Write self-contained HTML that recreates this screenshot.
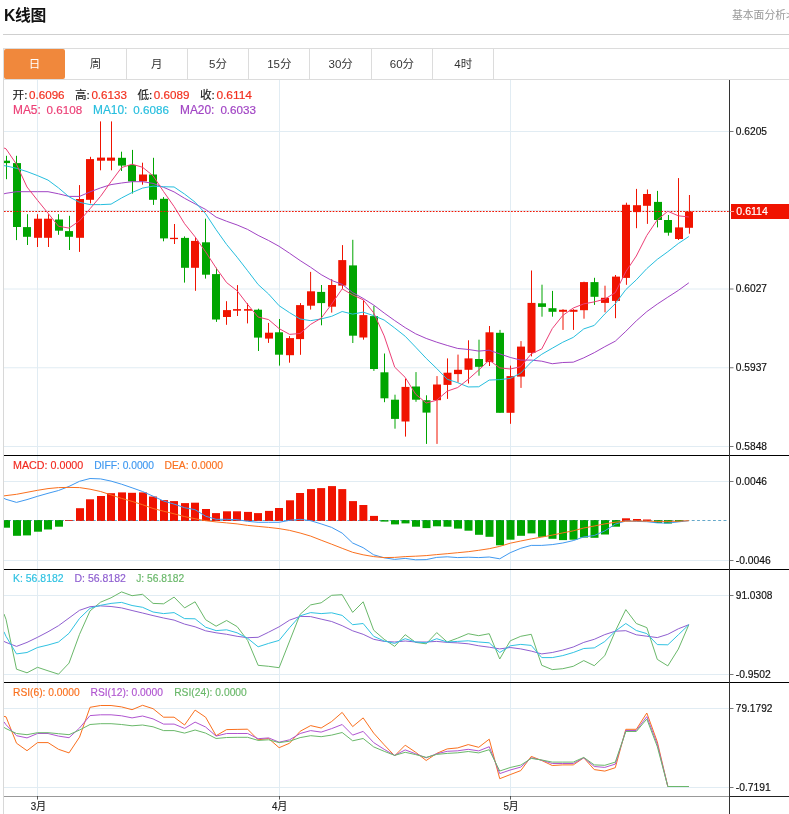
<!DOCTYPE html>
<html lang="zh-CN">
<head>
<meta charset="utf-8">
<title>K线图</title>
<style>
html,body{margin:0;padding:0;background:#fff;}
body{width:789px;height:814px;position:relative;overflow:hidden;font-family:"Liberation Sans","Noto Sans CJK SC",sans-serif;color:#222;}
.hd{position:absolute;left:3px;top:0;width:786px;height:34px;border-bottom:1px solid #cfcfcf;box-sizing:content-box;}
.hd h2{position:absolute;left:1px;top:4.5px;margin:0;font-size:15.8px;line-height:22px;font-weight:bold;color:#111;letter-spacing:-0.3px;white-space:nowrap;}
.hd a{position:absolute;left:729px;top:6px;font-size:10.8px;line-height:18px;color:#999;white-space:nowrap;text-decoration:none;}
.tabs{position:absolute;left:3px;top:48px;width:786px;height:30px;margin:0;padding:0;list-style:none;border-top:1px solid #dcdcdc;border-bottom:1px solid #dcdcdc;border-left:1px solid #dcdcdc;box-sizing:content-box;}
.tabs li{position:absolute;top:0;height:30px;width:60.3px;border-right:1px solid #dcdcdc;text-align:center;font-size:11.5px;line-height:30px;color:#333;}
.tabs li.on{background:#f0883c;color:#fff;border-radius:2px;top:0;width:61px;border-right:0;}
.chart{position:absolute;left:0;top:0;display:block;}
</style>
</head>
<body>
<div class="hd"><h2>K线图</h2><a>基本面分析&gt;</a></div>
<ul class="tabs"><li class="on" style="left:0px">日</li><li style="left:61.3px">周</li><li style="left:122.6px">月</li><li style="left:183.9px">5分</li><li style="left:245.2px">15分</li><li style="left:306.5px">30分</li><li style="left:367.8px">60分</li><li style="left:429.1px">4时</li></ul>
<svg class="chart" width="789" height="814" viewBox="0 0 789 814" stroke-width="0.18" font-family="'Liberation Sans','Noto Sans CJK SC',sans-serif">
<g stroke="#e1ecf3" stroke-width="1" fill="none"><line x1="4" y1="131.5" x2="729.5" y2="131.5"/><line x1="4" y1="210.6" x2="729.5" y2="210.6"/><line x1="4" y1="289" x2="729.5" y2="289"/><line x1="4" y1="367.75" x2="729.5" y2="367.75"/><line x1="4" y1="446.5" x2="729.5" y2="446.5"/><line x1="4" y1="481.5" x2="729.5" y2="481.5"/><line x1="4" y1="560.5" x2="729.5" y2="560.5"/><line x1="4" y1="595.5" x2="729.5" y2="595.5"/><line x1="4" y1="674.5" x2="729.5" y2="674.5"/><line x1="4" y1="708.5" x2="729.5" y2="708.5"/><line x1="4" y1="787.5" x2="729.5" y2="787.5"/><line x1="37.5" y1="80" x2="37.5" y2="796"/><line x1="279.5" y1="80" x2="279.5" y2="796"/><line x1="510.5" y1="80" x2="510.5" y2="796"/></g>
<g stroke="#00a500" stroke-width="1"><line x1="6.5" y1="155.8" x2="6.5" y2="179.2"/><line x1="16.5" y1="155.8" x2="16.5" y2="240.1"/><line x1="27.5" y1="214.2" x2="27.5" y2="245"/><line x1="58.5" y1="214.2" x2="58.5" y2="234.8"/><line x1="69.5" y1="215.8" x2="69.5" y2="250"/><line x1="121.5" y1="151.7" x2="121.5" y2="171"/><line x1="132.5" y1="149.9" x2="132.5" y2="193.5"/><line x1="153.5" y1="157.8" x2="153.5" y2="204.9"/><line x1="163.5" y1="197.1" x2="163.5" y2="241.3"/><line x1="184.5" y1="236.4" x2="184.5" y2="282.6"/><line x1="205.5" y1="218.7" x2="205.5" y2="278.6"/><line x1="216.5" y1="267.8" x2="216.5" y2="321.9"/><line x1="258.5" y1="308.7" x2="258.5" y2="351"/><line x1="279.5" y1="319" x2="279.5" y2="365.6"/><line x1="321.5" y1="285" x2="321.5" y2="325.3"/><line x1="352.8" y1="239.8" x2="352.8" y2="343"/><line x1="373.9" y1="305.7" x2="373.9" y2="370.9"/><line x1="384.5" y1="353.5" x2="384.5" y2="402.2"/><line x1="395" y1="394.7" x2="395" y2="428.7"/><line x1="416" y1="372.1" x2="416" y2="401.8"/><line x1="426.5" y1="395.3" x2="426.5" y2="443.9"/><line x1="479" y1="339.7" x2="479" y2="375.7"/><line x1="500" y1="329.9" x2="500" y2="412.8"/><line x1="542" y1="284.7" x2="542" y2="316.7"/><line x1="552.5" y1="290.9" x2="552.5" y2="316.7"/><line x1="594.5" y1="277.8" x2="594.5" y2="304.9"/><line x1="657.5" y1="190.9" x2="657.5" y2="227.4"/><line x1="668.45" y1="215" x2="668.45" y2="235.7"/></g>
<g stroke="#f01300" stroke-width="1"><line x1="37.5" y1="214.2" x2="37.5" y2="247"/><line x1="48.5" y1="214.2" x2="48.5" y2="247"/><line x1="79.5" y1="185.1" x2="79.5" y2="251.9"/><line x1="90.5" y1="156.8" x2="90.5" y2="203.4"/><line x1="100.5" y1="121.4" x2="100.5" y2="170.3"/><line x1="111.5" y1="121.4" x2="111.5" y2="170.3"/><line x1="142.5" y1="162.7" x2="142.5" y2="184.7"/><line x1="174.5" y1="224" x2="174.5" y2="244"/><line x1="195.5" y1="237.3" x2="195.5" y2="290.8"/><line x1="226.5" y1="301.2" x2="226.5" y2="324.8"/><line x1="237.5" y1="285.1" x2="237.5" y2="316"/><line x1="247.5" y1="303.2" x2="247.5" y2="323.4"/><line x1="268.5" y1="322.9" x2="268.5" y2="342.9"/><line x1="289.5" y1="336.1" x2="289.5" y2="362.7"/><line x1="300.5" y1="303.1" x2="300.5" y2="354.8"/><line x1="310.6" y1="271.9" x2="310.6" y2="309.6"/><line x1="331.7" y1="279.1" x2="331.7" y2="312.6"/><line x1="342.5" y1="245.1" x2="342.5" y2="289"/><line x1="363.5" y1="299.8" x2="363.5" y2="339.7"/><line x1="405.5" y1="378.6" x2="405.5" y2="436.6"/><line x1="437" y1="376.1" x2="437" y2="443.9"/><line x1="447.5" y1="358.4" x2="447.5" y2="398.9"/><line x1="458" y1="354.6" x2="458" y2="382.6"/><line x1="468.5" y1="340.3" x2="468.5" y2="383.5"/><line x1="489.5" y1="326" x2="489.5" y2="366"/><line x1="510.5" y1="365.6" x2="510.5" y2="423.8"/><line x1="521" y1="341.1" x2="521" y2="387.9"/><line x1="531.5" y1="270.5" x2="531.5" y2="356.4"/><line x1="563" y1="309.2" x2="563" y2="329.9"/><line x1="573.5" y1="309.2" x2="573.5" y2="329.9"/><line x1="584" y1="281.7" x2="584" y2="318.7"/><line x1="605" y1="285.7" x2="605" y2="312.3"/><line x1="615.5" y1="275" x2="615.5" y2="318.2"/><line x1="626.45" y1="202.7" x2="626.45" y2="284.8"/><line x1="636.5" y1="188.9" x2="636.5" y2="228.2"/><line x1="647.45" y1="189.5" x2="647.45" y2="223.9"/><line x1="678.5" y1="178.1" x2="678.5" y2="240"/><line x1="689.45" y1="195" x2="689.45" y2="233.7"/></g>
<g fill="#00a500"><rect x="4" y="160.7" width="6" height="2.4"/><rect x="13" y="163.1" width="8" height="63.9"/><rect x="23" y="227.1" width="8" height="9.7"/><rect x="55" y="219.5" width="8" height="11.2"/><rect x="65" y="231.1" width="8" height="5.7"/><rect x="118" y="157.8" width="8" height="7.8"/><rect x="128" y="165" width="8" height="16.4"/><rect x="149" y="174.5" width="8" height="25.3"/><rect x="160" y="198.8" width="8" height="39.6"/><rect x="181" y="237.9" width="8" height="29.9"/><rect x="202" y="242.3" width="8" height="32.4"/><rect x="212" y="274.1" width="8" height="45.4"/><rect x="254" y="309.7" width="8" height="27.9"/><rect x="275" y="332.3" width="8" height="22.4"/><rect x="317.15" y="291.9" width="8" height="11.2"/><rect x="349" y="265.4" width="8" height="70.3"/><rect x="370" y="316.1" width="8" height="52.9"/><rect x="380.45" y="372.3" width="8" height="26"/><rect x="391" y="399.7" width="8" height="19.2"/><rect x="412" y="386.5" width="8" height="13.2"/><rect x="422.5" y="400.2" width="8" height="12.4"/><rect x="475" y="359" width="8" height="7.8"/><rect x="496" y="332.8" width="8" height="80"/><rect x="538" y="303.3" width="8" height="3.6"/><rect x="548.5" y="308.2" width="8" height="3.6"/><rect x="590.5" y="282.1" width="8" height="14.7"/><rect x="654" y="201.9" width="8" height="18.1"/><rect x="664" y="220" width="8" height="12.7"/></g>
<g fill="#f01300"><rect x="34" y="218.7" width="8" height="19.1"/><rect x="44" y="218.7" width="8" height="19.1"/><rect x="76" y="199" width="8" height="38.8"/><rect x="86" y="159.1" width="8" height="40.7"/><rect x="97" y="157.6" width="8" height="3.1"/><rect x="107" y="157.6" width="8" height="3.1"/><rect x="139" y="174.5" width="8" height="6.9"/><rect x="170" y="237.8" width="8" height="1.3"/><rect x="191" y="240.9" width="8" height="26.9"/><rect x="223" y="310.1" width="8" height="6.9"/><rect x="233" y="309.1" width="8" height="1.6"/><rect x="244" y="309.1" width="8" height="1.6"/><rect x="265" y="332.7" width="8" height="5.9"/><rect x="286" y="338.1" width="8" height="17.1"/><rect x="296.05" y="305.1" width="8" height="34"/><rect x="307" y="291.3" width="8" height="14.4"/><rect x="328" y="285" width="8" height="21.7"/><rect x="338.25" y="260.1" width="8" height="25.5"/><rect x="359.35" y="315.1" width="8" height="22.4"/><rect x="401.5" y="386.9" width="8" height="34.6"/><rect x="433" y="384.5" width="8" height="15.7"/><rect x="443.5" y="372.7" width="8" height="12.2"/><rect x="454" y="369.8" width="8" height="4.3"/><rect x="464.5" y="358.4" width="8" height="11.4"/><rect x="485.5" y="332.3" width="8" height="29.8"/><rect x="506.5" y="376.1" width="8" height="36.7"/><rect x="517" y="346.6" width="8" height="30"/><rect x="527.5" y="302.9" width="8" height="50"/><rect x="559" y="309.8" width="8" height="2"/><rect x="569.5" y="309.8" width="8" height="2"/><rect x="580" y="282.1" width="8" height="28.1"/><rect x="601" y="297.8" width="8" height="5.1"/><rect x="612" y="276.6" width="8" height="24.3"/><rect x="622" y="204.8" width="8" height="73.1"/><rect x="633" y="205.2" width="8" height="6.9"/><rect x="643" y="194" width="8" height="11.8"/><rect x="675" y="227.4" width="8" height="11.6"/><rect x="685" y="211.5" width="8" height="16.3"/></g>
<line x1="4" y1="211.5" x2="729.5" y2="211.5" stroke="#f01300" stroke-width="1" stroke-dasharray="1.7 1.43"/>
<polyline points="4,193.8 6,193.3 16.51,191.7 27.01,191.7 37.52,191.7 48.02,191.7 58.53,193.8 69.03,196.4 79.54,196.4 90.04,191.9 100.55,187.9 111.05,184.6 121.56,183 132.06,181.7 142.56,181.7 153.07,183.4 163.58,187.3 174.08,191.9 184.59,198.3 195.09,203.9 205.6,209.43 216.1,217.14 226.61,221.28 237.11,224.97 247.62,229.43 258.12,235.37 268.62,240.52 279.13,246.34 289.64,253.3 300.14,260.55 310.65,267.29 321.15,274.62 331.66,280.43 342.16,284.38 352.67,292.62 363.17,298.42 373.68,305.04 384.18,313.04 394.69,320.55 405.19,327.65 415.7,333.82 426.2,338.43 436.71,342.17 447.21,345.43 457.72,348.46 468.22,349.46 478.73,351.09 489.23,350.2 499.74,353.88 510.24,357.44 520.75,360.09 531.25,360.08 541.75,361.2 552.26,363.74 562.76,362.52 573.27,362.17 583.78,357.84 594.28,352.66 604.79,346.69 615.29,341.18 625.8,331.32 636.3,320.89 646.81,311.62 657.31,304.07 667.82,297.16 678.32,290.42 688.83,282.8" fill="none" stroke="#a144c4" stroke-width="1.0" stroke-linejoin="round"/>
<polyline points="4,165.7 6,165.9 16.51,168.3 27.01,171.6 37.52,175.6 48.02,180.1 58.53,187.9 69.03,196.8 79.54,202.3 90.04,204.6 100.55,204.64 111.05,204.15 121.56,197.97 132.06,192.54 142.56,188.07 153.07,186.16 163.58,186.73 174.08,186.98 184.59,194.09 195.09,202.16 205.6,213.76 216.1,229.71 226.61,244.49 237.11,257.19 247.62,270.74 258.12,284.5 268.62,294.02 279.13,305.72 289.64,312.69 300.14,318.98 310.65,320.65 321.15,318.94 331.66,316.31 342.16,311.51 352.67,314.13 363.17,312.12 373.68,315.67 384.18,320.06 394.69,327.97 405.19,336.25 415.7,347.19 426.2,358.35 436.71,368.51 447.21,379.25 457.72,382.71 468.22,386.94 478.73,386.77 489.23,380.07 499.74,379.61 510.24,378.43 520.75,373.12 531.25,362.04 541.75,354.27 552.26,348.23 562.76,342.25 573.27,337.36 583.78,328.91 594.28,325.42 604.79,313.97 615.29,303.71 625.8,289.62 636.3,279.84 646.81,268.58 657.31,259.34 667.82,251.69 678.32,243.53 688.83,236.53" fill="none" stroke="#26bede" stroke-width="1.0" stroke-linejoin="round"/>
<polyline points="4,148 6,148.8 16.51,164.3 27.01,187 37.52,200.3 48.02,213.19 58.53,226.29 69.03,228.08 79.54,220.84 90.04,208.72 100.55,196.36 111.05,181.64 121.56,167.59 132.06,164.19 142.56,167.25 153.07,175.78 163.58,191.6 174.08,206.54 184.59,223.69 195.09,236.85 205.6,251.81 216.1,267.98 226.61,282.6 237.11,290.75 247.62,304.43 258.12,317.06 268.62,319.62 279.13,328.61 289.64,334.38 300.14,333.48 310.65,324.36 321.15,318.22 331.66,304.07 342.16,288.84 352.67,294.91 363.17,299.8 373.68,312.88 384.18,335.9 394.69,367.17 405.19,377.4 415.7,394.27 426.2,403.01 436.71,400.21 447.21,391.16 457.72,387.52 468.22,379.35 478.73,370.03 489.23,360.15 499.74,367.89 510.24,369.01 520.75,366.74 531.25,353.83 541.75,348.92 552.26,328.62 562.76,315.48 573.27,308 583.78,303.89 594.28,301.9 604.79,299.12 615.29,292.64 625.8,271.72 636.3,256 646.81,235.44 657.31,219.84 667.82,211.28 678.32,215.79 688.83,216.99" fill="none" stroke="#ec3f76" stroke-width="1.0" stroke-linejoin="round"/>
<line x1="4" y1="520.5" x2="727" y2="520.5" stroke="#5cb8e6" stroke-opacity="0.9" stroke-width="1" stroke-dasharray="2.8 2.5" stroke-dashoffset="1.2"/>
<g fill="#00a500"><rect x="4" y="520" width="6" height="7.7"/><rect x="13" y="520" width="8" height="15.8"/><rect x="23" y="520" width="8" height="15.4"/><rect x="34" y="520" width="8" height="11.7"/><rect x="44" y="520" width="8" height="9.5"/><rect x="55" y="520" width="8" height="6.7"/><rect x="380.45" y="520" width="8" height="1.6"/><rect x="391" y="520" width="8" height="4.4"/><rect x="401.5" y="520" width="8" height="3.4"/><rect x="412" y="520" width="8" height="6.7"/><rect x="422.5" y="520" width="8" height="8.1"/><rect x="433" y="520" width="8" height="6.3"/><rect x="443.5" y="520" width="8" height="6.7"/><rect x="454" y="520" width="8" height="8.6"/><rect x="464.5" y="520" width="8" height="10.7"/><rect x="475" y="520" width="8" height="14.8"/><rect x="485.5" y="520" width="8" height="16.8"/><rect x="496" y="520" width="8" height="25.3"/><rect x="506.5" y="520" width="8" height="19.7"/><rect x="517" y="520" width="8" height="15.8"/><rect x="527.5" y="520" width="8" height="13.4"/><rect x="538" y="520" width="8" height="16.8"/><rect x="548.5" y="520" width="8" height="18.8"/><rect x="559" y="520" width="8" height="20.1"/><rect x="569.5" y="520" width="8" height="19.7"/><rect x="580" y="520" width="8" height="17.6"/><rect x="590.5" y="520" width="8" height="17.8"/><rect x="601" y="520" width="8" height="14.5"/><rect x="612" y="520" width="8" height="6.7"/><rect x="654" y="520" width="8" height="3"/><rect x="664" y="520" width="8" height="3.5"/><rect x="675" y="520" width="8" height="1.9"/></g>
<g fill="#f01300"><rect x="65" y="520.1" width="8" height="0.9"/><rect x="76" y="508.2" width="8" height="12.8"/><rect x="86" y="499.3" width="8" height="21.7"/><rect x="97" y="496" width="8" height="25"/><rect x="107" y="493.2" width="8" height="27.8"/><rect x="118" y="492.4" width="8" height="28.6"/><rect x="128" y="492.8" width="8" height="28.2"/><rect x="139" y="492.4" width="8" height="28.6"/><rect x="149" y="496.5" width="8" height="24.5"/><rect x="160" y="500.1" width="8" height="20.9"/><rect x="170" y="501.1" width="8" height="19.9"/><rect x="181" y="503.1" width="8" height="17.9"/><rect x="191" y="502.7" width="8" height="18.3"/><rect x="202" y="509" width="8" height="12"/><rect x="212" y="513.1" width="8" height="7.9"/><rect x="223" y="511.3" width="8" height="9.7"/><rect x="233" y="511.3" width="8" height="9.7"/><rect x="244" y="511.9" width="8" height="9.1"/><rect x="254" y="513.1" width="8" height="7.9"/><rect x="265" y="510.9" width="8" height="10.1"/><rect x="275" y="508" width="8" height="13"/><rect x="286" y="500.3" width="8" height="20.7"/><rect x="296.05" y="493" width="8" height="28"/><rect x="307" y="489.1" width="8" height="31.9"/><rect x="317.15" y="488.1" width="8" height="32.9"/><rect x="328" y="486.1" width="8" height="34.9"/><rect x="338.25" y="489.1" width="8" height="31.9"/><rect x="349" y="501.1" width="8" height="19.9"/><rect x="359.35" y="505" width="8" height="16"/><rect x="370" y="515.9" width="8" height="5.1"/><rect x="622" y="518.3" width="8" height="2.7"/><rect x="633" y="519" width="8" height="2"/><rect x="643" y="519.5" width="8" height="1.5"/></g>
<line x1="4" y1="520.5" x2="727" y2="520.5" stroke="#60889c" stroke-opacity="0.4" stroke-width="1" stroke-dasharray="2.8 2.5" stroke-dashoffset="1.2"/>
<polyline points="4,498.4 6,499.3 16.51,502.4 27.01,499.6 37.52,496.3 48.02,493.3 58.53,490.5 69.03,486.4 79.54,481.3 90.04,478.5 100.55,478.9 111.05,481.1 121.56,484.2 132.06,487.8 142.56,491.5 153.07,496.2 163.58,501 174.08,504.1 184.59,507.7 195.09,509.7 205.6,516.2 216.1,519.3 226.61,519.3 237.11,519.7 247.62,521.3 258.12,522.3 268.62,522.3 279.13,522.3 289.64,520.3 300.14,519.3 310.65,520.7 321.15,523.9 331.66,527.4 342.16,533.1 352.67,543 363.17,547.7 373.68,554.8 384.18,557.8 394.69,559.4 405.19,558.4 415.7,559.8 426.2,559.6 436.71,557.4 447.21,556.8 457.72,557.6 468.22,557.2 478.73,557.6 489.23,557 499.74,558.8 510.24,552.7 520.75,548.3 531.25,545.4 541.75,545.4 552.26,544.6 562.76,543 573.27,540.6 583.78,536.9 594.28,535.5 604.79,530.9 615.29,524.1 625.8,521 636.3,521.4 646.81,521.7 657.31,522.9 667.82,523.1 678.32,521.9 688.83,520.7" fill="none" stroke="#4099f0" stroke-width="1.0" stroke-linejoin="round"/>
<polyline points="4,495.9 6,495.6 16.51,494.3 27.01,492.3 37.52,490.3 48.02,488.6 58.53,487.6 69.03,487.4 79.54,487.6 90.04,489.2 100.55,491.5 111.05,494.9 121.56,498.4 132.06,501.4 142.56,504.7 153.07,508.5 163.58,511.2 174.08,513.8 184.59,516.6 195.09,518.7 205.6,520.7 216.1,521.9 226.61,522.9 237.11,523.9 247.62,525.4 258.12,526.4 268.62,527.4 279.13,528.6 289.64,530.4 300.14,533 310.65,536.1 321.15,540.2 331.66,544.2 342.16,548.3 352.67,552.3 363.17,554.8 373.68,556.6 384.18,557.6 394.69,557.4 405.19,556.6 415.7,556.2 426.2,555.6 436.71,554.6 447.21,553.7 457.72,552.7 468.22,551.7 478.73,550.3 489.23,548.7 499.74,546.4 510.24,543.2 520.75,541 531.25,538.9 541.75,537.1 552.26,535.1 562.76,532.9 573.27,530.8 583.78,528 594.28,526 604.79,523.9 615.29,522.2 625.8,521.2 636.3,521 646.81,521.2 657.31,521.4 667.82,521.4 678.32,521.2 688.83,520.7" fill="none" stroke="#fa701e" stroke-width="1.0" stroke-linejoin="round"/>
<polyline points="4,614 6,619.3 16.51,669.2 27.01,672.8 37.52,667.3 48.02,670.8 58.53,674.2 69.03,663.1 79.54,634.3 90.04,610.9 100.55,602.2 111.05,597.8 121.56,591.9 132.06,595.7 142.56,594.3 153.07,603.4 163.58,603.8 174.08,597.1 184.59,607.9 195.09,601.8 205.6,619.7 216.1,626.2 226.61,620.5 237.11,626.6 247.62,640.4 258.12,665.3 268.62,666.3 279.13,667.7 289.64,641 300.14,614.3 310.65,604.9 321.15,602.8 331.66,595.3 342.16,594.7 352.67,612.4 363.17,601.8 373.68,630.2 384.18,639.3 394.69,646.4 405.19,634.7 415.7,642.4 426.2,643.8 436.71,632.6 447.21,642 457.72,638.1 468.22,633.7 478.73,635.7 489.23,633.7 499.74,659 510.24,640.8 520.75,636.3 531.25,634.3 541.75,665.3 552.26,669.6 562.76,668.7 573.27,666.3 583.78,660.6 594.28,665.7 604.79,655.7 615.29,631.2 625.8,609.6 636.3,623.5 646.81,627.6 657.31,659.4 667.82,665.9 678.32,649.1 688.83,624.7" fill="none" stroke="#6ab86a" stroke-width="1.0" stroke-linejoin="round"/>
<polyline points="4,641.4 6,642.4 16.51,646.4 27.01,642.4 37.52,637.3 48.02,631.8 58.53,625.7 69.03,618 79.54,610.3 90.04,606.7 100.55,605.9 111.05,606.5 121.56,607.9 132.06,610.5 142.56,613 153.07,615.6 163.58,618 174.08,620.1 184.59,624.1 195.09,626.8 205.6,630.8 216.1,632.8 226.61,634.3 237.11,636.3 247.62,637.7 258.12,637.3 268.62,632.2 279.13,626.8 289.64,620.1 300.14,616.4 310.65,616.6 321.15,619.1 331.66,621.5 342.16,625.7 352.67,630.8 363.17,634.3 373.68,639.3 384.18,641.4 394.69,642 405.19,641 415.7,642 426.2,642 436.71,641.4 447.21,642.4 457.72,642.9 468.22,643.8 478.73,645.8 489.23,647.2 499.74,648.9 510.24,647.5 520.75,648.9 531.25,651.1 541.75,653.9 552.26,652.5 562.76,650.1 573.27,647 583.78,642.4 594.28,639.3 604.79,634.6 615.29,631.2 625.8,630.7 636.3,634.8 646.81,636.2 657.31,637.6 667.82,634.3 678.32,628.8 688.83,624.7" fill="none" stroke="#8f5fd0" stroke-width="1.0" stroke-linejoin="round"/>
<polyline points="4,631.8 6,636.3 16.51,653.9 27.01,652.5 37.52,647.5 48.02,645 58.53,642 69.03,633.3 79.54,618.4 90.04,608.3 100.55,605.3 111.05,603.4 121.56,602.4 132.06,605.5 142.56,607.3 153.07,612 163.58,613.6 174.08,612.6 184.59,618.6 195.09,618.8 205.6,627.2 216.1,630.6 226.61,629.8 237.11,632.8 247.62,638.3 258.12,646.8 268.62,643.4 279.13,640.4 289.64,627.6 300.14,615.8 310.65,612.6 321.15,613.6 331.66,612.8 342.16,615.4 352.67,624.7 363.17,623.5 373.68,636.3 384.18,641 394.69,643.4 405.19,638.7 415.7,642 426.2,642.8 436.71,638.7 447.21,642 457.72,641.4 468.22,640.8 478.73,642 489.23,642.8 499.74,652.5 510.24,645.8 520.75,644.4 531.25,645.4 541.75,657.6 552.26,657.6 562.76,655.6 573.27,652.5 583.78,648.5 594.28,647.9 604.79,641.5 615.29,631.2 625.8,623.5 636.3,630.5 646.81,633.6 657.31,644.6 667.82,644.8 678.32,634.8 688.83,624.7" fill="none" stroke="#30c2e2" stroke-width="1.0" stroke-linejoin="round"/>
<polyline points="4,716.4 6,716.8 16.51,743.2 27.01,750.7 37.52,742.6 48.02,742.6 58.53,749.3 69.03,752.9 79.54,737.1 90.04,707.3 100.55,705.5 111.05,705.5 121.56,706.9 132.06,709.7 142.56,705.3 153.07,708.7 163.58,717.2 174.08,717.2 184.59,725 195.09,710.1 205.6,717.2 216.1,735.7 226.61,729.6 237.11,729.4 247.62,729.2 258.12,739.8 268.62,738.5 279.13,747.7 289.64,743.2 300.14,731.3 310.65,725.6 321.15,728 331.66,721.5 342.16,712.4 352.67,726.6 363.17,717.9 373.68,733.1 384.18,744.8 394.69,755.8 405.19,745.2 415.7,752.3 426.2,760.5 436.71,753.4 447.21,748.9 457.72,747.9 468.22,744.6 478.73,747.3 489.23,739.2 499.74,778.7 510.24,774.6 520.75,770.6 531.25,756.4 541.75,760.5 552.26,765.5 562.76,764.9 573.27,764.9 583.78,757.8 594.28,769.6 604.79,771.1 615.29,767.7 625.8,729.3 636.3,729.3 646.81,713 657.31,741.8 667.82,786.5 678.32,786.5 688.83,786.5" fill="none" stroke="#fa701e" stroke-width="1.0" stroke-linejoin="round"/>
<polyline points="4,721.9 6,724.7 16.51,735.7 27.01,737.9 37.52,733.5 48.02,733.5 58.53,736.1 69.03,737.7 79.54,728 90.04,715.6 100.55,714.8 111.05,714.8 121.56,715.8 132.06,717.9 142.56,716 153.07,718.9 163.58,724.1 174.08,724.1 184.59,728.4 195.09,722.1 205.6,727 216.1,736.1 226.61,733.5 237.11,733.5 247.62,733.5 258.12,738.7 268.62,737.9 279.13,742.2 289.64,739.8 300.14,733.5 310.65,730.6 321.15,732.1 331.66,728.6 342.16,724.5 352.67,735.1 363.17,731.4 373.68,742.6 384.18,749.3 394.69,755.4 405.19,749.9 415.7,753.8 426.2,757.8 436.71,753.8 447.21,751.3 457.72,750.8 468.22,749.3 478.73,750.9 489.23,746.7 499.74,773.6 510.24,770 520.75,767.1 531.25,757.8 541.75,760.2 552.26,763.5 562.76,763.5 573.27,763.5 583.78,757.8 594.28,766.5 604.79,767.4 615.29,764.1 625.8,730.5 636.3,730.5 646.81,716.6 657.31,744.2 667.82,786.5 678.32,786.5 688.83,786.5" fill="none" stroke="#b055d0" stroke-width="1.0" stroke-linejoin="round"/>
<polyline points="4,727.4 6,728.6 16.51,733.5 27.01,734.7 37.52,732.7 48.02,732.7 58.53,733.7 69.03,734.7 79.54,730 90.04,724.5 100.55,723.7 111.05,723.7 121.56,724.5 132.06,725.8 142.56,725 153.07,726.8 163.58,730.6 174.08,730.6 184.59,733.1 195.09,730 205.6,733.1 216.1,738.5 226.61,737.5 237.11,737.3 247.62,737.3 258.12,740.4 268.62,739.8 279.13,742.6 289.64,741.2 300.14,737.6 310.65,735.7 321.15,736.7 331.66,735.1 342.16,732.5 352.67,740.8 363.17,738.5 373.68,746.9 384.18,751.3 394.69,755.4 405.19,752.3 415.7,754.6 426.2,757.4 436.71,754.4 447.21,753.4 457.72,752.8 468.22,751.5 478.73,752.9 489.23,749.7 499.74,771 510.24,767.5 520.75,765.1 531.25,758.4 541.75,760 552.26,762.1 562.76,762.1 573.27,762.1 583.78,757.4 594.28,764.9 604.79,765.3 615.29,762.1 625.8,731.5 636.3,731.5 646.81,719 657.31,746.6 667.82,786.5 678.32,786.5 688.83,786.5" fill="none" stroke="#6ab86a" stroke-width="1.0" stroke-linejoin="round"/>
<line x1="3.5" y1="80" x2="3.5" y2="814" stroke="#d8d8d8" stroke-width="1"/><line x1="4" y1="455.5" x2="789" y2="455.5" stroke="#000" stroke-width="1"/><line x1="4" y1="569.5" x2="789" y2="569.5" stroke="#000" stroke-width="1"/><line x1="4" y1="682.5" x2="789" y2="682.5" stroke="#000" stroke-width="1"/><line x1="4" y1="796.5" x2="729.5" y2="796.5" stroke="#999" stroke-width="1"/><line x1="729.5" y1="796.5" x2="789" y2="796.5" stroke="#222" stroke-width="1"/><line x1="729.5" y1="80" x2="729.5" y2="814" stroke="#333" stroke-width="1"/><line x1="729.5" y1="131.5" x2="733.5" y2="131.5" stroke="#555" stroke-width="0.8"/><line x1="729.5" y1="289" x2="733.5" y2="289" stroke="#555" stroke-width="0.8"/><line x1="729.5" y1="367.75" x2="733.5" y2="367.75" stroke="#555" stroke-width="0.8"/><line x1="729.5" y1="446.5" x2="733.5" y2="446.5" stroke="#555" stroke-width="0.8"/><line x1="729.5" y1="481.5" x2="733.5" y2="481.5" stroke="#555" stroke-width="0.8"/><line x1="729.5" y1="560.5" x2="733.5" y2="560.5" stroke="#555" stroke-width="0.8"/><line x1="729.5" y1="595.5" x2="733.5" y2="595.5" stroke="#555" stroke-width="0.8"/><line x1="729.5" y1="674.5" x2="733.5" y2="674.5" stroke="#555" stroke-width="0.8"/><line x1="729.5" y1="708.5" x2="733.5" y2="708.5" stroke="#555" stroke-width="0.8"/><line x1="729.5" y1="787.5" x2="733.5" y2="787.5" stroke="#555" stroke-width="0.8"/><line x1="37.5" y1="796" x2="37.5" y2="799.6" stroke="#333" stroke-width="0.8"/><line x1="279.5" y1="796" x2="279.5" y2="799.6" stroke="#333" stroke-width="0.8"/><line x1="510.5" y1="796" x2="510.5" y2="799.6" stroke="#333" stroke-width="0.8"/>
<rect x="731" y="204" width="58" height="15" fill="#f01300"/>
<line x1="730" y1="211.5" x2="734" y2="211.5" stroke="#f7a59c" stroke-width="1"/>
<text x="735.8" y="134.9" fill="#111" stroke="#111" font-size="11" textLength="31.2" lengthAdjust="spacingAndGlyphs">0.6205</text>
<text x="735.8" y="292.4" fill="#111" stroke="#111" font-size="11" textLength="31.2" lengthAdjust="spacingAndGlyphs">0.6027</text>
<text x="735.8" y="371.1" fill="#111" stroke="#111" font-size="11" textLength="31.2" lengthAdjust="spacingAndGlyphs">0.5937</text>
<text x="735.8" y="450.1" fill="#111" stroke="#111" font-size="11" textLength="31.2" lengthAdjust="spacingAndGlyphs">0.5848</text>
<text x="735.8" y="485" fill="#111" stroke="#111" font-size="11" textLength="31.2" lengthAdjust="spacingAndGlyphs">0.0046</text>
<text x="735.8" y="564.2" fill="#111" stroke="#111" font-size="11" textLength="35" lengthAdjust="spacingAndGlyphs">-0.0046</text>
<text x="735.8" y="599.2" fill="#111" stroke="#111" font-size="11" textLength="36.6" lengthAdjust="spacingAndGlyphs">91.0308</text>
<text x="735.8" y="677.7" fill="#111" stroke="#111" font-size="11" textLength="35" lengthAdjust="spacingAndGlyphs">-0.9502</text>
<text x="735.8" y="712.2" fill="#111" stroke="#111" font-size="11" textLength="36.6" lengthAdjust="spacingAndGlyphs">79.1792</text>
<text x="735.8" y="791.2" fill="#111" stroke="#111" font-size="11" textLength="35" lengthAdjust="spacingAndGlyphs">-0.7191</text>
<text x="736.3" y="214.9" fill="#fff" stroke="#fff" font-size="11" textLength="31.6" lengthAdjust="spacingAndGlyphs">0.6114</text>
<text x="12.6" y="99.2" fill="#222" stroke="#222" font-size="11.6">开:</text>
<text x="29" y="99.2" fill="#f2301f" stroke="#f2301f" font-size="11.5" textLength="35.6" lengthAdjust="spacingAndGlyphs">0.6096</text>
<text x="75" y="99.2" fill="#222" stroke="#222" font-size="11.6">高:</text>
<text x="91.4" y="99.2" fill="#f2301f" stroke="#f2301f" font-size="11.5" textLength="35.6" lengthAdjust="spacingAndGlyphs">0.6133</text>
<text x="137.4" y="99.2" fill="#222" stroke="#222" font-size="11.6">低:</text>
<text x="153.8" y="99.2" fill="#f2301f" stroke="#f2301f" font-size="11.5" textLength="35.6" lengthAdjust="spacingAndGlyphs">0.6089</text>
<text x="200" y="99.2" fill="#222" stroke="#222" font-size="11.6">收:</text>
<text x="216.4" y="99.2" fill="#f2301f" stroke="#f2301f" font-size="11.5" textLength="35.6" lengthAdjust="spacingAndGlyphs">0.6114</text>
<text x="13" y="114" fill="#ec3f76" stroke="#ec3f76" font-size="11.9">MA5:</text>
<text x="46.6" y="114" fill="#ec3f76" stroke="#ec3f76" font-size="11.5" textLength="35.6" lengthAdjust="spacingAndGlyphs">0.6108</text>
<text x="93" y="114" fill="#26bede" stroke="#26bede" font-size="11.9">MA10:</text>
<text x="133.3" y="114" fill="#26bede" stroke="#26bede" font-size="11.5" textLength="35.6" lengthAdjust="spacingAndGlyphs">0.6086</text>
<text x="180" y="114" fill="#a144c4" stroke="#a144c4" font-size="11.9">MA20:</text>
<text x="220.4" y="114" fill="#a144c4" stroke="#a144c4" font-size="11.5" textLength="35.6" lengthAdjust="spacingAndGlyphs">0.6033</text>
<text x="13" y="469.3" fill="#f22a20" stroke="#f22a20" font-size="11.5" textLength="70.3" lengthAdjust="spacingAndGlyphs">MACD: 0.0000</text>
<text x="94.2" y="469.3" fill="#4099f0" stroke="#4099f0" font-size="11.5" textLength="59.8" lengthAdjust="spacingAndGlyphs">DIFF: 0.0000</text>
<text x="164.5" y="469.3" fill="#fa701e" stroke="#fa701e" font-size="11.5" textLength="58.6" lengthAdjust="spacingAndGlyphs">DEA: 0.0000</text>
<text x="13" y="582.3" fill="#30c2e2" stroke="#30c2e2" font-size="11.5" textLength="50.6" lengthAdjust="spacingAndGlyphs">K: 56.8182</text>
<text x="74.5" y="582.3" fill="#8f5fd0" stroke="#8f5fd0" font-size="11.5" textLength="51.4" lengthAdjust="spacingAndGlyphs">D: 56.8182</text>
<text x="136.2" y="582.3" fill="#6ab86a" stroke="#6ab86a" font-size="11.5" textLength="48" lengthAdjust="spacingAndGlyphs">J: 56.8182</text>
<text x="13" y="696.4" fill="#fa701e" stroke="#fa701e" font-size="11.5" textLength="66.6" lengthAdjust="spacingAndGlyphs">RSI(6): 0.0000</text>
<text x="90.5" y="696.4" fill="#b055d0" stroke="#b055d0" font-size="11.5" textLength="72.4" lengthAdjust="spacingAndGlyphs">RSI(12): 0.0000</text>
<text x="174.2" y="696.4" fill="#6ab86a" stroke="#6ab86a" font-size="11.5" textLength="72.6" lengthAdjust="spacingAndGlyphs">RSI(24): 0.0000</text>
<text x="30.8" y="810" fill="#222" stroke="#222" font-size="11" textLength="15.2" lengthAdjust="spacingAndGlyphs">3月</text>
<text x="272" y="810" fill="#222" stroke="#222" font-size="11" textLength="15.2" lengthAdjust="spacingAndGlyphs">4月</text>
<text x="503.4" y="810" fill="#222" stroke="#222" font-size="11" textLength="15.2" lengthAdjust="spacingAndGlyphs">5月</text>
</svg>
</body>
</html>
